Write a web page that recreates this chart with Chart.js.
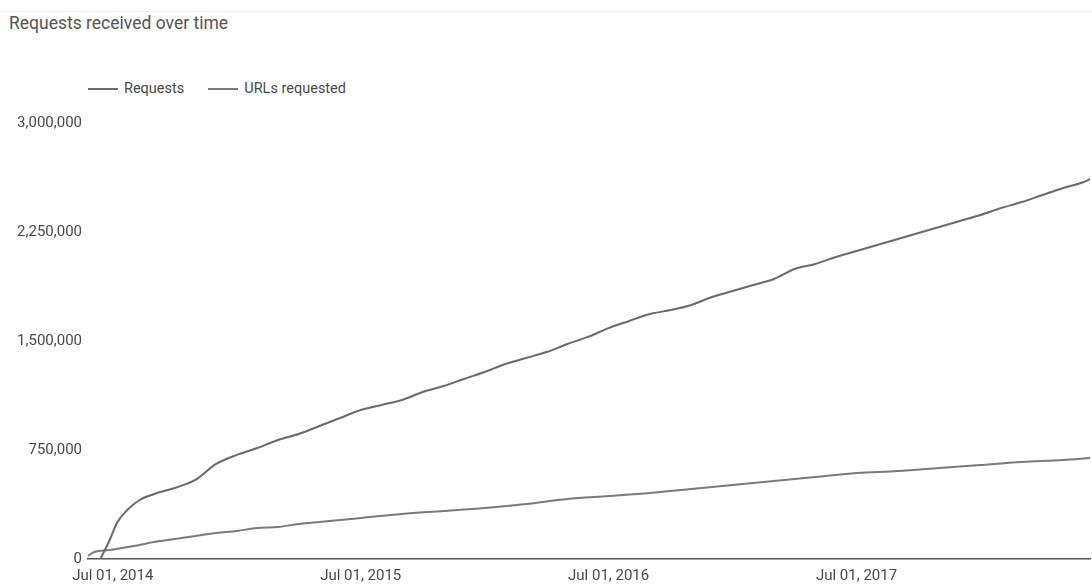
<!DOCTYPE html>
<html>
<head>
<meta charset="utf-8">
<script src="https://cdn.jsdelivr.net/npm/chart.js@4.4.1/dist/chart.umd.min.js"></script>
<style>
  html, body { margin: 0; padding: 0; background: #fff; }
  body { width: 1092px; height: 584px; position: relative; overflow: hidden; font-family: Roboto, "Noto Sans", sans-serif; }
  #topline { position: absolute; left: 0; top: 11px; width: 1092px; height: 1px; background: #f3f3f3; }
  #title { position: absolute; left: 9px; top: 13px; font-size: 17.5px; color: #555; }
  #legend { position: absolute; left: 88px; top: 80px; font-size: 14.5px; color: #4a4a4a; display: flex; }
  .item { display: flex; align-items: center; margin-right: 24px; }
  .swatch { width: 30px; height: 2px; margin-right: 6px; }
  #wrap { position: absolute; left: 0; top: 0; width: 1092px; height: 584px; }
</style>
</head>
<body>
<div id="topline"></div>
<div id="title">Requests received over time</div>
<div id="legend"></div>
<div id="wrap"><canvas id="chart"></canvas></div>
<script>
// months since Jul 01, 2014
const requestMonths = [-0.6, -0.15, 0.2, 0.7, 1.3, 2, 3, 4, 5, 6, 7, 8, 9, 10, 11, 12, 13, 14, 15, 16, 17, 18, 19, 20, 21, 22, 23, 24,
  25, 26, 27, 28, 29, 30, 31, 32, 33, 34, 35, 36, 37, 38, 39, 40, 41, 42, 43, 44, 45, 46, 47, 47.3];
const requests = [0, 131000, 248000, 337000, 406000, 447000, 489000, 544000, 654000, 716000, 764000, 819000, 860000, 915000,
  970000, 1025000, 1060000, 1094000, 1149000, 1190000, 1239000, 1287000, 1342000, 1383000, 1424000, 1479000, 1528000, 1589000,
  1638000, 1686000, 1713000, 1748000, 1803000, 1844000, 1885000, 1927000, 1995000, 2030000, 2078000, 2119000, 2160000,
  2202000, 2243000, 2284000, 2326000, 2367000, 2415000, 2456000, 2505000, 2553000, 2594000, 2615000];

const urlMonths = [-1.2, -0.9, -0.15, 1, 2, 3, 4, 5, 6, 7, 8, 9, 10, 11, 12, 14, 16, 18, 20, 22, 24, 26, 28, 30, 32, 34, 36,
  38, 40, 42, 44, 46, 47.3];
const urlsRequested = [21000, 48000, 62000, 89000, 117000, 138000, 158000, 179000, 193000, 213000, 220000, 241000, 255000,
  268000, 282000, 310000, 330000, 351000, 378000, 413000, 433000, 454000, 482000, 509000, 537000, 564000, 592000, 605000,
  626000, 647000, 667000, 681000, 695000];

const seriesNames = ['Requests', 'URLs requested'];
const seriesColors = ['#6a6a6a', '#7a7a7a'];

const tickMonths = [0, 12, 24, 36];
const tickLabels = ['Jul 01, 2014', 'Jul 01, 2015', 'Jul 01, 2016', 'Jul 01, 2017'];
const yTicks = [0, 750000, 1500000, 2250000, 3000000];

// html legend
const legend = document.getElementById('legend');
seriesNames.forEach((name, i) => {
  const item = document.createElement('div');
  item.className = 'item';
  const sw = document.createElement('span');
  sw.className = 'swatch';
  sw.style.background = seriesColors[i];
  const txt = document.createElement('span');
  txt.textContent = name;
  item.appendChild(sw);
  item.appendChild(txt);
  legend.appendChild(item);
});

const toPoints = (xs, ys) => xs.map((x, i) => ({ x: x, y: ys[i] }));

new Chart(document.getElementById('chart'), {
  type: 'line',
  data: {
    datasets: [
      { label: seriesNames[0], data: toPoints(requestMonths, requests), borderColor: seriesColors[0], borderWidth: 2, pointRadius: 0, cubicInterpolationMode: 'monotone', fill: false },
      { label: seriesNames[1], data: toPoints(urlMonths, urlsRequested), borderColor: seriesColors[1], borderWidth: 2, pointRadius: 0, cubicInterpolationMode: 'monotone', fill: false }
    ]
  },
  options: {
    responsive: true,
    maintainAspectRatio: false,
    animation: false,
    layout: { padding: { top: 123, right: 2, bottom: 0, left: 0 } },
    plugins: { legend: { display: false }, title: { display: false }, tooltip: { enabled: false } },
    scales: {
      x: {
        type: 'linear',
        min: -1.2,
        max: 47.3,
        afterBuildTicks: (scale) => { scale.ticks = tickMonths.map(v => ({ value: v })); },
        afterFit: (scale) => { scale.height = 25; },
        grid: { display: false, drawTicks: false },
        border: { display: true, color: '#555', width: 1.5 },
        ticks: {
          padding: 8,
          maxRotation: 0,
          autoSkip: false,
          color: '#4a4a4a',
          font: { family: 'Roboto', size: 15 },
          callback: (v) => { const i = tickMonths.indexOf(v); return i >= 0 ? tickLabels[i] : ''; }
        }
      },
      y: {
        min: 0,
        max: 3000000,
        afterBuildTicks: (scale) => { scale.ticks = yTicks.map(v => ({ value: v })); },
        afterFit: (scale) => { scale.width = 88; },
        grid: { display: false, drawTicks: false },
        border: { display: false },
        ticks: {
          padding: 6,
          color: '#4a4a4a',
          font: { family: 'Roboto', size: 15 },
          callback: (v) => v.toLocaleString('en-US')
        }
      }
    }
  }
});
</script>
</body>
</html>
